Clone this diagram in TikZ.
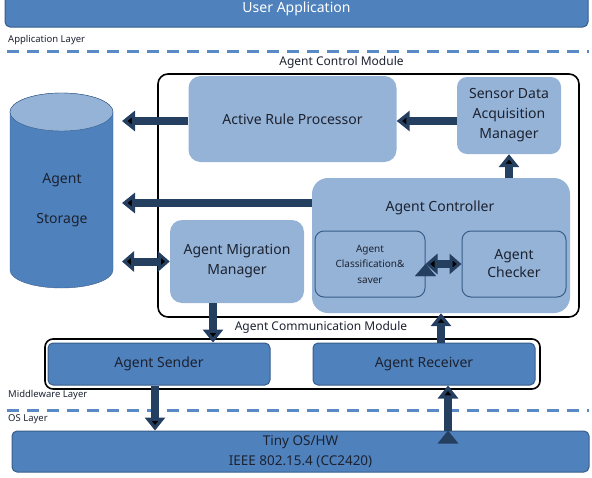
\documentclass[tikz,border=0pt]{standalone}
\usepackage{fontspec}
\setmainfont{Noto Sans}
\usepackage{tikz}
\usetikzlibrary{arrows.meta}
\definecolor{barblue}{HTML}{4F81BD}
\definecolor{barline}{HTML}{385D8A}
\definecolor{boxblue}{HTML}{95B3D7}
\definecolor{arrownavy}{HTML}{243F60}
\definecolor{dashblue}{HTML}{5A8AC6}
\definecolor{txtdark}{HTML}{1C2230}

\begin{document}
\begin{tikzpicture}[x=1pt,y=-1pt,
        font=\fontsize{14}{20}\selectfont, text=txtdark,
        darkbar/.style={draw=barline, line width=1pt, fill=barblue, rounded corners=5pt, align=center},
        lightbox/.style={fill=boxblue, rounded corners=12pt, align=center},
        innerbox/.style={draw=barline, line width=1pt, fill=boxblue, rounded corners=9pt, align=center},
        modbox/.style={draw=black, line width=1.6pt, rounded corners=10pt},
        layerline/.style={draw=dashblue, line width=3pt, dash pattern=on 12pt off 8pt},
        smalltext/.style={font=\fontsize{9.5}{11}\selectfont},
        modtext/.style={font=\fontsize{12}{14}\selectfont},
        blk/.style={draw=arrownavy, line width=8pt, -{Triangle[length=13pt,width=20pt]}},
        blkboth/.style={draw=arrownavy, line width=8pt, {Triangle[length=12pt,width=20pt]}-{Triangle[length=12pt,width=20pt]}}]
        \useasboundingbox (0,0) rectangle (592,477);
        % layers
        \node[darkbar, minimum width=583pt, minimum height=36pt, text=white] (user_app) at (296.5,9) {User Application};
        \node[smalltext, anchor=west, inner sep=0pt] (app_layer) at (8,40) {Application Layer};
        \draw[layerline] (7,51) -- (589,51);
        \node[smalltext, anchor=west, inner sep=0pt] (mw_layer) at (8,395) {Middleware Layer};
        \draw[layerline] (7,410) -- (589,410);
        \node[smalltext, anchor=west, inner sep=0pt] (os_layer) at (8,419) {OS Layer};
        \node[darkbar, minimum width=577pt, minimum height=41pt, font=\fontsize{13.5}{20}\selectfont] (tiny_os) at (300.5,451.5) {Tiny OS/HW\\IEEE 802.15.4 (CC2420)};

        % storage
        \path[fill=barblue, draw=barline] (10,112) -- (10,270)
            arc[start angle=180, end angle=0, x radius=51.5, y radius=18] -- (113,112)
            arc[start angle=0, end angle=-180, x radius=51.5, y radius=19] -- cycle;
        \draw[fill=boxblue, draw=barline] (61.5,112) ellipse[x radius=51.5, y radius=19];
        \node[align=center] (storage) at (62,200) {Agent\\[20pt]Storage};

        % agent control module
        \node[modtext] (ctrl_label) at (341.5,62) {Agent Control Module};
        \node[modbox, minimum width=421pt, minimum height=243pt] (ctrl_mod) at (368.5,195.5) {};
        \node[lightbox, minimum width=208pt, minimum height=86pt] (rule_proc) at (292.5,119) {Active Rule Processor};
        \node[lightbox, minimum width=104pt, minimum height=77pt, rounded corners=10pt] (sensor_dam) at (509,115.5) {Sensor Data\\Acquisition\\Manager};
        \node[lightbox, minimum width=258pt, minimum height=135pt, rounded corners=16pt] (agent_ctrl) at (441,245.5) {};
        \node (ctrl_title) at (440,208) {Agent Controller};
        \node[lightbox, minimum width=134pt, minimum height=83pt] (agent_mm) at (237,261.5) {Agent Migration\\Manager};
        \node[innerbox, minimum width=110pt, minimum height=66pt, font=\fontsize{10}{15.5}\selectfont] (agent_cls) at (370,264) {Agent\\Classification\&\\saver};
        \node[innerbox, minimum width=104pt, minimum height=66pt, font=\fontsize{14}{18}\selectfont] (agent_chk) at (514,264) {Agent\\Checker};

        % agent communication module
        \node[modtext] (comm_label) at (321,327) {Agent Communication Module};
        \node[modbox, minimum width=495pt, minimum height=50pt, rounded corners=8pt] (comm_mod) at (292.5,364) {};
        \node[darkbar, minimum width=222pt, minimum height=42pt] (agent_snd) at (159,364) {Agent Sender};
        \node[darkbar, minimum width=222pt, minimum height=42pt] (agent_rcv) at (424,364) {Agent Receiver};

        \coordinate (st_a) at (122,121);
        \coordinate (st_b) at (122,203);
        \coordinate (st_c) at (122,261.5);
        \path[blk] (sensor_dam.west |- st_a) edge (rule_proc.east |- st_a)
                   (rule_proc.west |- st_a) edge (st_a)
                   (agent_ctrl.west |- st_b) edge (st_b)
                   (sensor_dam.south |- agent_ctrl.north) edge (sensor_dam.south)
                   ([xshift=-24pt]agent_mm.south) edge ([xshift=-24pt]agent_mm.south |- agent_snd.north)
                   (agent_ctrl.south |- agent_rcv.north) edge (agent_ctrl.south)
                   ([xshift=-4pt]agent_snd.south) edge ([xshift=-4pt]agent_snd.south |- tiny_os.north)
                   ([xshift=24pt]agent_rcv.south |- tiny_os.north) edge ([xshift=24pt]agent_rcv.south);
        \path[blkboth] (st_c) edge (agent_mm.west)
                       (agent_cls.east) edge (agent_chk.west);
    \end{tikzpicture}
\end{document}
